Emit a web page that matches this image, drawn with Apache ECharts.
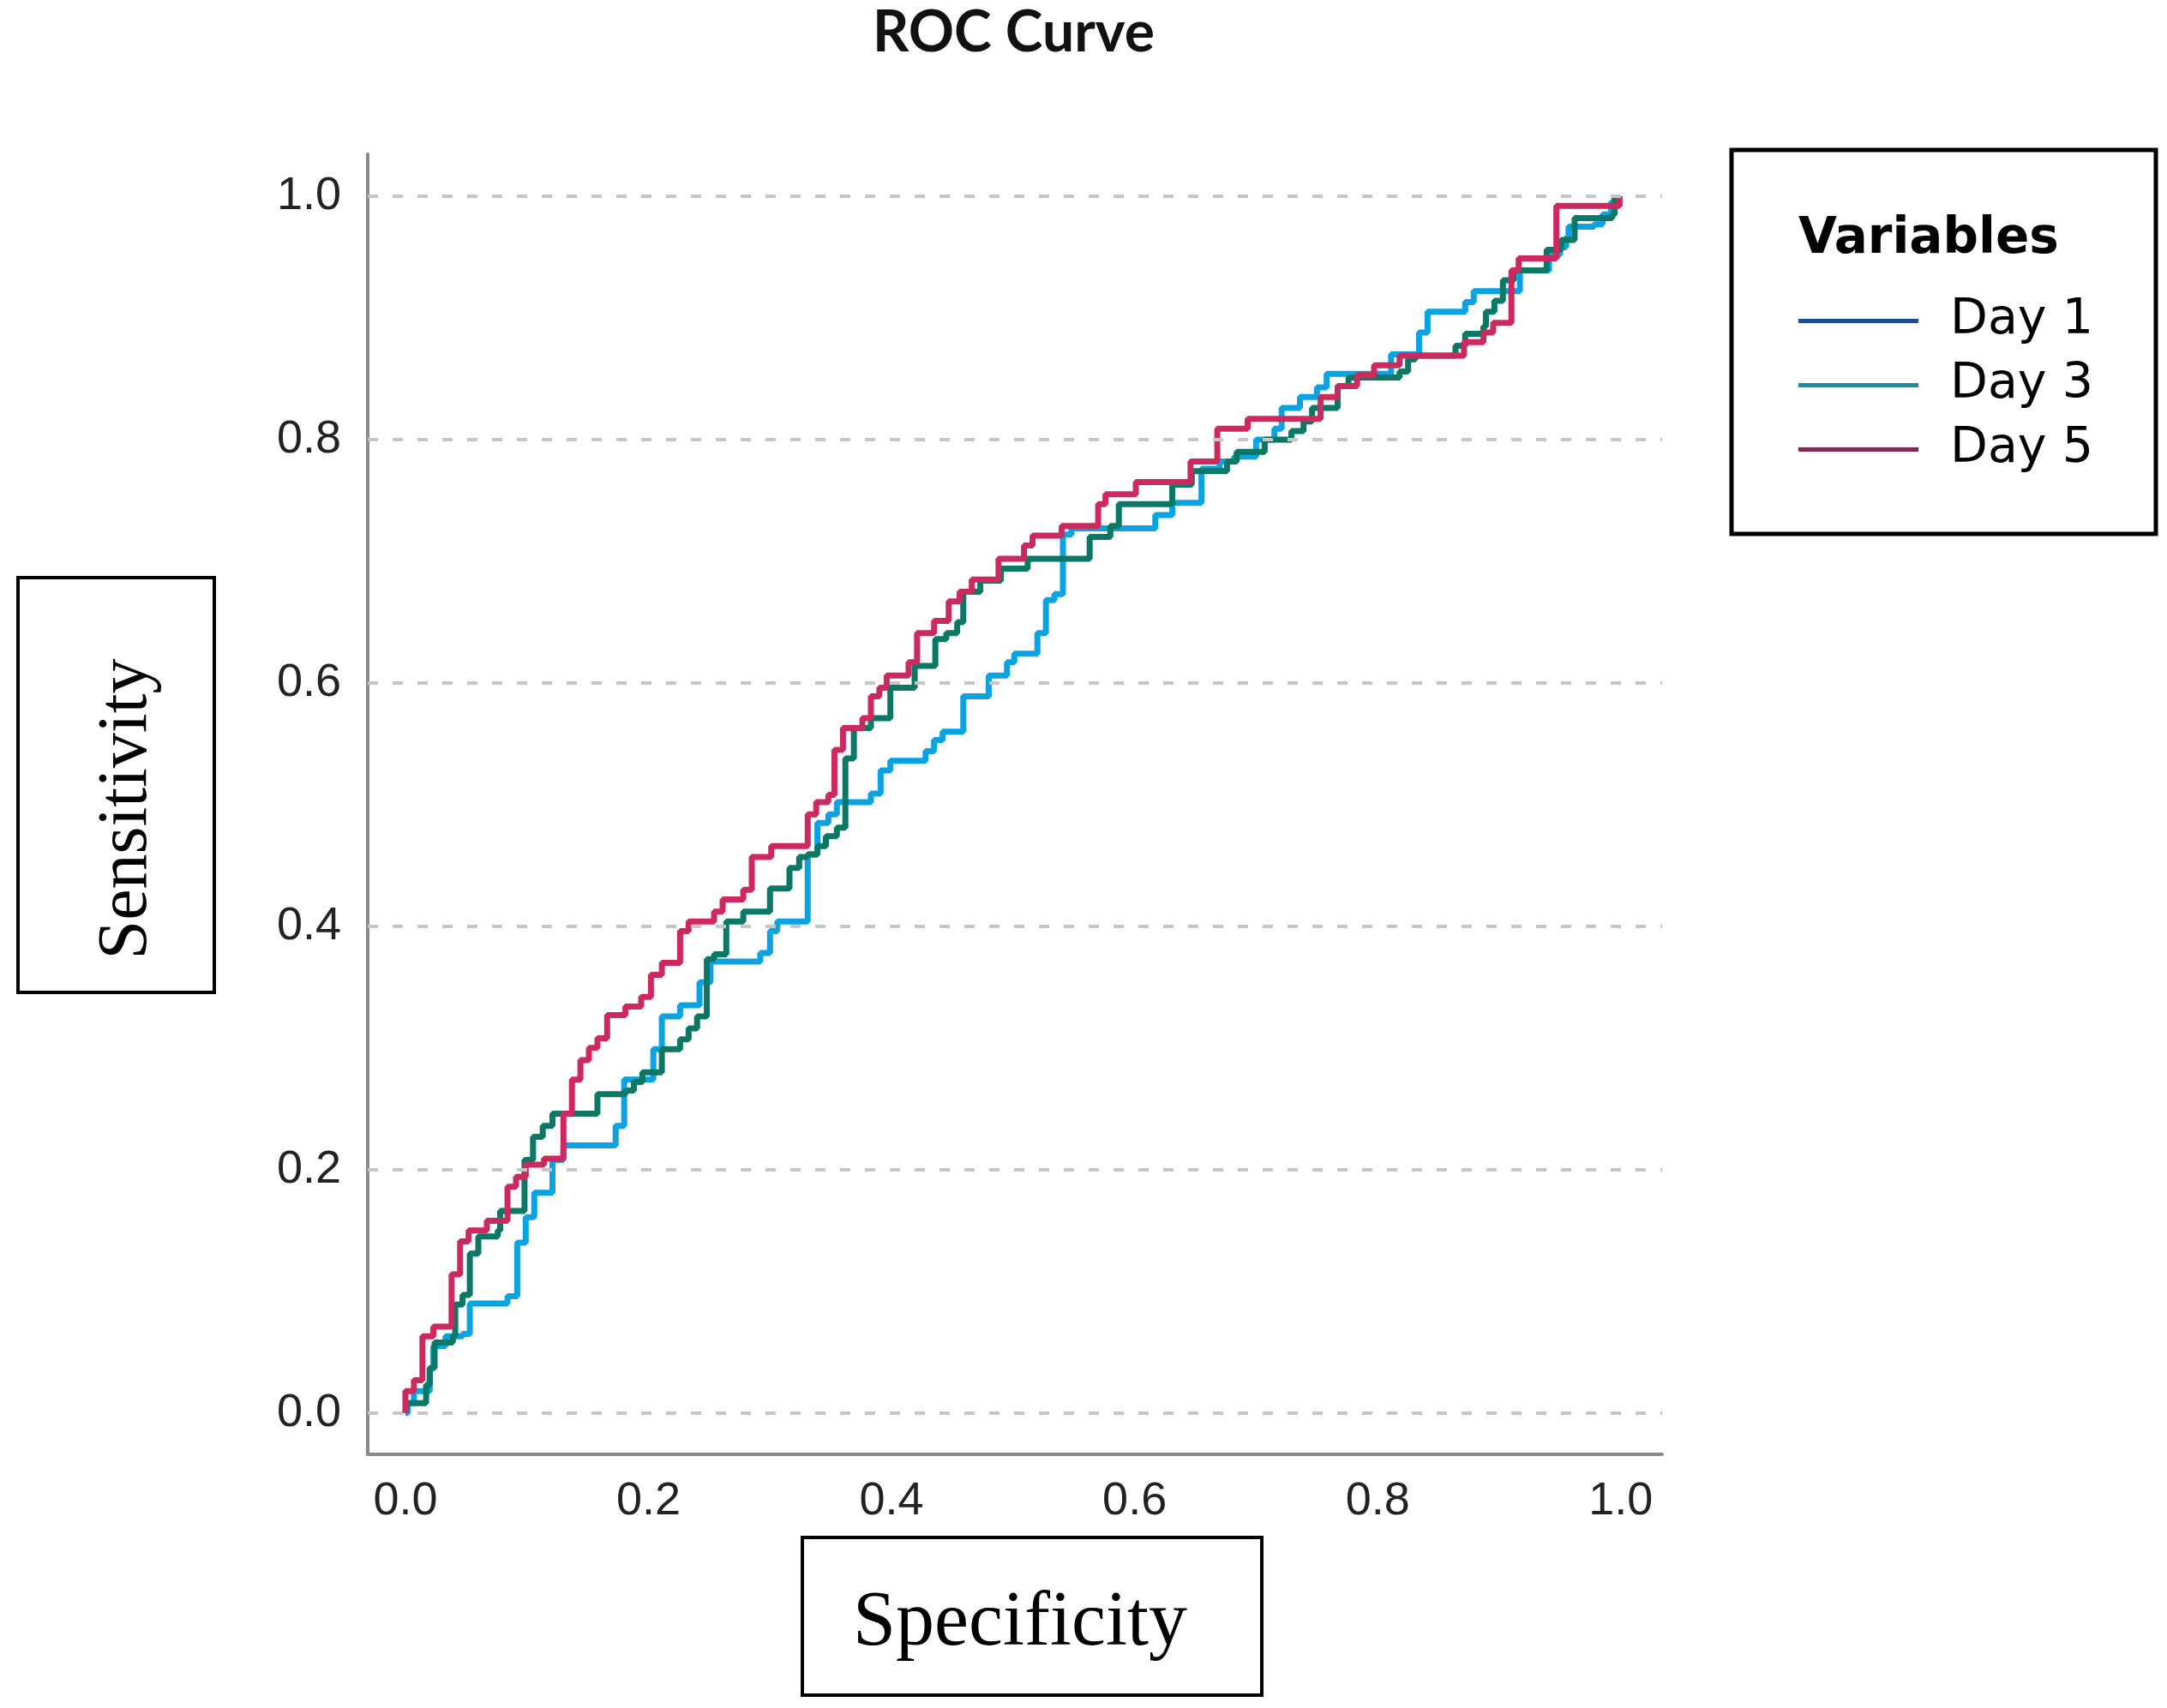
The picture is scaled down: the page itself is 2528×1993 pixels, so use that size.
<!DOCTYPE html>
<html>
<head>
<meta charset="utf-8">
<title>ROC Curve</title>
<script src="https://cdn.jsdelivr.net/npm/echarts@6/dist/echarts.min.js"></script>
<style>
  html, body { margin: 0; padding: 0; background: #fff; }
  #chart { width: 2528px; height: 1993px; }
</style>
</head>
<body>
<div id="chart"></div>
<script>
// tick labels on both axes
var tickValues = [0, 0.2, 0.4, 0.6, 0.8, 1.0];

// Day 1 curve (step corners: x, then rise to y)
var day1X = [0, 0.002, 0.007, 0.020, 0.023, 0.033, 0.047, 0.053, 0.084, 0.092, 0.099, 0.106, 0.121, 0.130, 0.173, 0.180,
  0.204, 0.211, 0.226, 0.242, 0.251, 0.292, 0.300, 0.306, 0.331, 0.339, 0.348, 0.355, 0.383, 0.391, 0.399, 0.428,
  0.435, 0.442, 0.459, 0.480, 0.495, 0.501, 0.520, 0.527, 0.534, 0.541, 0.548, 0.617, 0.631, 0.655, 0.670, 0.682,
  0.700, 0.715, 0.721, 0.736, 0.750, 0.758, 0.811, 0.834, 0.841, 0.872, 0.879, 0.917, 0.941, 0.950, 0.955, 0.957,
  0.978, 0.985, 0.992, 0.998];
var day1Y = [0, 0.008, 0.018, 0.037, 0.055, 0.063, 0.065, 0.090, 0.096, 0.140, 0.161, 0.181, 0.208, 0.220, 0.236, 0.274,
  0.299, 0.326, 0.335, 0.354, 0.371, 0.378, 0.396, 0.404, 0.459, 0.485, 0.492, 0.502, 0.509, 0.528, 0.536, 0.544,
  0.553, 0.560, 0.589, 0.606, 0.617, 0.624, 0.641, 0.668, 0.673, 0.722, 0.727, 0.738, 0.748, 0.776, 0.782, 0.786,
  0.800, 0.809, 0.826, 0.835, 0.843, 0.854, 0.870, 0.888, 0.905, 0.913, 0.922, 0.939, 0.952, 0.958, 0.966, 0.975,
  0.977, 0.985, 0.995, 1.0];

// Day 3 curve
var day3X = [0, 0.001, 0.017, 0.020, 0.024, 0.039, 0.041, 0.047, 0.053, 0.060, 0.076, 0.078, 0.098, 0.105, 0.113, 0.121,
  0.158, 0.181, 0.188, 0.195, 0.211, 0.226, 0.233, 0.240, 0.248, 0.254, 0.264, 0.278, 0.300, 0.316, 0.324, 0.331,
  0.339, 0.346, 0.355, 0.362, 0.369, 0.383, 0.399, 0.419, 0.436, 0.445, 0.454, 0.459, 0.473, 0.490, 0.512, 0.563,
  0.580, 0.587, 0.631, 0.647, 0.676, 0.684, 0.707, 0.729, 0.739, 0.746, 0.767, 0.776, 0.818, 0.825, 0.831, 0.864,
  0.872, 0.887, 0.889, 0.896, 0.903, 0.912, 0.939, 0.951, 0.962, 0.993, 0.995];
var day3Y = [0, 0.008, 0.023, 0.037, 0.058, 0.063, 0.089, 0.097, 0.131, 0.145, 0.150, 0.166, 0.208, 0.227, 0.236, 0.246,
  0.262, 0.265, 0.272, 0.280, 0.299, 0.307, 0.316, 0.326, 0.373, 0.377, 0.404, 0.412, 0.431, 0.448, 0.457, 0.459,
  0.466, 0.474, 0.481, 0.538, 0.563, 0.571, 0.596, 0.614, 0.636, 0.641, 0.650, 0.675, 0.684, 0.694, 0.702, 0.720,
  0.729, 0.747, 0.763, 0.774, 0.782, 0.790, 0.800, 0.807, 0.815, 0.826, 0.844, 0.851, 0.856, 0.866, 0.869, 0.877,
  0.887, 0.893, 0.905, 0.914, 0.931, 0.939, 0.956, 0.964, 0.982, 0.985, 1.0];

// Day 5 curve
var day5X = [0, 0, 0.007, 0.014, 0.023, 0.038, 0.045, 0.052, 0.067, 0.084, 0.091, 0.099, 0.114, 0.130, 0.137, 0.144,
  0.151, 0.158, 0.166, 0.181, 0.194, 0.202, 0.211, 0.226, 0.233, 0.254, 0.261, 0.278, 0.285, 0.301, 0.331, 0.338,
  0.348, 0.353, 0.360, 0.376, 0.383, 0.390, 0.396, 0.414, 0.421, 0.435, 0.447, 0.456, 0.466, 0.488, 0.509, 0.516,
  0.540, 0.570, 0.576, 0.601, 0.646, 0.668, 0.693, 0.753, 0.767, 0.783, 0.797, 0.818, 0.871, 0.887, 0.895, 0.910,
  0.916, 0.947, 0.999];
var day5Y = [0, 0.018, 0.027, 0.063, 0.071, 0.114, 0.141, 0.150, 0.158, 0.186, 0.194, 0.204, 0.209, 0.246, 0.274, 0.290,
  0.300, 0.308, 0.327, 0.334, 0.342, 0.360, 0.370, 0.396, 0.404, 0.412, 0.422, 0.430, 0.457, 0.466, 0.492, 0.502,
  0.508, 0.545, 0.563, 0.571, 0.589, 0.596, 0.606, 0.617, 0.641, 0.651, 0.667, 0.675, 0.685, 0.702, 0.713, 0.721,
  0.729, 0.747, 0.755, 0.765, 0.782, 0.809, 0.817, 0.835, 0.844, 0.853, 0.861, 0.869, 0.880, 0.888, 0.896, 0.939,
  0.949, 0.992, 1.0];

var seriesNames = ['Day 1', 'Day 3', 'Day 5'];
var lineColors = ['#0aa3e2', '#0b7765', '#cc2a5f'];     // colours of the curves
var legendColors = ['#1c4c96', '#1a8fa3', '#7d2b4e'];   // colours drawn in the legend box

function pairs(xs, ys) {
  return xs.map(function (x, i) { return [x, ys[i]]; });
}
var curves = [pairs(day1X, day1Y), pairs(day3X, day3Y), pairs(day5X, day5Y)];

var chart = echarts.init(document.getElementById('chart'), null, { renderer: 'canvas' });

var series = [{
  // dashed horizontal guides at each tick
  name: 'grid',
  type: 'line',
  data: [],
  silent: true,
  markLine: {
    silent: true,
    symbol: ['none', 'none'],
    label: { show: false },
    lineStyle: { color: '#c6c6c6', width: 4, type: [12, 17] },
    data: tickValues.map(function (v) { return { yAxis: v }; })
  }
}];
seriesNames.forEach(function (name, i) {
  series.push({
    name: name,
    type: 'line',
    step: 'end',
    symbol: 'none',
    data: curves[i],
    lineStyle: { color: lineColors[i], width: 7 },
    itemStyle: { color: lineColors[i] }
  });
});

var option = {
  animation: false,
  backgroundColor: '#fff',
  title: [{
    text: 'ROC Curve',
    left: 1018,
    top: 6,
    padding: 0,
    textStyle: { fontFamily: 'Lato', fontWeight: 'bold', fontSize: 66, color: '#111' }
  }, {
    text: 'Variables',
    left: 2098,
    top: 251,
    padding: 0,
    textStyle: { fontFamily: 'DejaVu Sans', fontWeight: 'bold', fontSize: 58, color: '#000' }
  }],
  legend: {
    orient: 'vertical',
    left: 2098,
    top: 346,
    padding: 0,
    icon: 'rect',
    itemWidth: 140,
    itemHeight: 5,
    itemGap: 18,
    data: seriesNames.map(function (name, i) {
      return { name: name, itemStyle: { color: legendColors[i] } };
    }),
    textStyle: { fontFamily: 'DejaVu Sans', fontSize: 57, color: '#000', padding: [0, 0, 0, 32] }
  },
  grid: { left: 429, right: 589, top: 180, bottom: 296, containLabel: false },
  xAxis: {
    type: 'value',
    min: -0.031,
    max: 1.034,
    axisLine: { show: true, onZero: false, lineStyle: { color: '#8a8a8a', width: 4 } },
    axisTick: { show: false },
    splitLine: { show: false },
    axisLabel: {
      customValues: tickValues,
      margin: 28,
      fontFamily: 'Liberation Sans',
      fontSize: 54,
      color: '#222',
      formatter: function (v) { return v.toFixed(1); }
    }
  },
  yAxis: {
    type: 'value',
    min: -0.034,
    max: 1.0345,
    axisLine: { show: true, onZero: false, lineStyle: { color: '#8a8a8a', width: 4 } },
    axisTick: { show: false },
    splitLine: { show: false },
    axisLabel: {
      customValues: tickValues,
      margin: 31,
      fontFamily: 'Liberation Sans',
      fontSize: 54,
      color: '#222',
      formatter: function (v) { return v.toFixed(1); }
    }
  },
  graphic: [
    // legend frame
    { type: 'rect', shape: { x: 2020, y: 175, width: 495, height: 448 },
      style: { fill: 'none', stroke: '#000', lineWidth: 5 }, silent: true },
    // boxed axis titles
    { type: 'rect', shape: { x: 21, y: 674, width: 229, height: 484 },
      style: { fill: 'none', stroke: '#000', lineWidth: 4 }, silent: true },
    { type: 'text', x: 148, y: 944, rotation: Math.PI / 2, silent: true,
      style: { text: 'Sensitivity', fontFamily: 'Liberation Serif', fontSize: 82, fill: '#000',
        align: 'center', verticalAlign: 'middle' } },
    { type: 'rect', shape: { x: 936, y: 1794, width: 536, height: 184 },
      style: { fill: 'none', stroke: '#000', lineWidth: 4 }, silent: true },
    { type: 'text', x: 1190, y: 1895, silent: true,
      style: { text: 'Specificity', fontFamily: 'Liberation Serif', fontSize: 90, fill: '#000',
        align: 'center', verticalAlign: 'middle' } }
  ],
  series: series
};

chart.setOption(option);
</script>
</body>
</html>
